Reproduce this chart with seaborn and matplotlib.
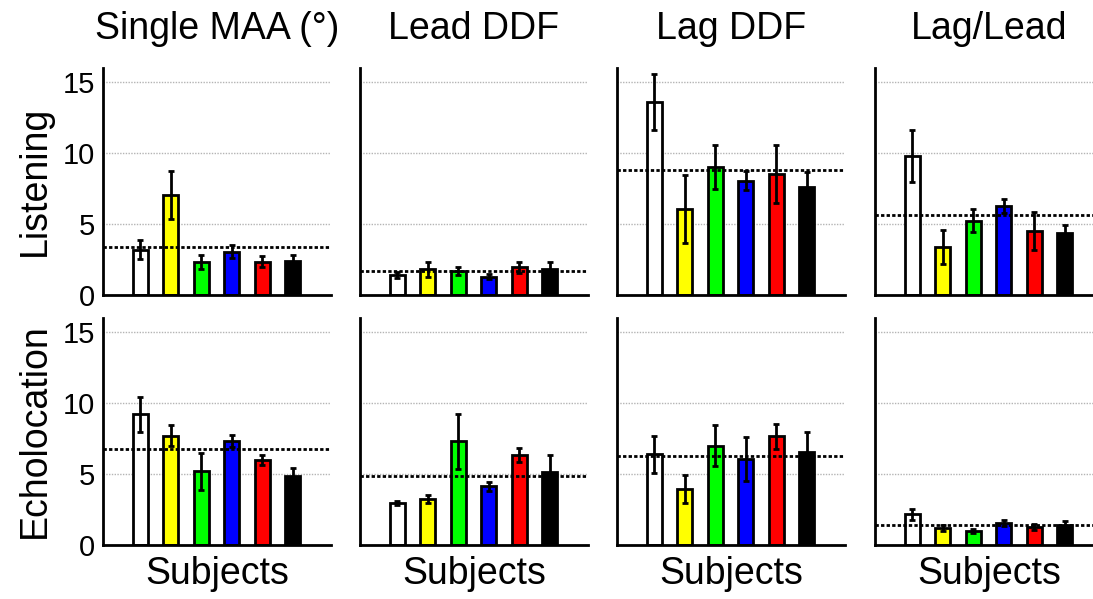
import matplotlib
matplotlib.use("Agg")
import matplotlib.pyplot as plt
import seaborn as sns
import pandas as pd

# panel titles / rows / subjects
measures = ["Single MAA (°)", "Lead DDF", "Lag DDF", "Lag/Lead"]
conditions = ["Listening", "Echolocation"]
subjects = ["S1", "S2", "S3", "S4", "S5", "S6"]
subject_colors = ["white", "#ffff00", "#00ff00", "#0000ff", "#ff0000", "black"]

# values, one list per measure
listening_vals = [
    [3.2, 7.05, 2.3, 3.05, 2.35, 2.4],
    [1.4, 1.8, 1.7, 1.3, 1.95, 1.8],
    [13.6, 6.05, 9.0, 8.05, 8.5, 7.6],
    [9.8, 3.4, 5.25, 6.3, 4.5, 4.4],
]
listening_err = [
    [0.67, 1.7, 0.5, 0.45, 0.4, 0.45],
    [0.2, 0.5, 0.28, 0.15, 0.38, 0.5],
    [1.95, 2.4, 1.55, 0.66, 2.05, 1.1],
    [1.83, 1.18, 0.78, 0.49, 1.32, 0.56],
]
listening_mean = [3.37, 1.67, 8.78, 5.63]

echo_vals = [
    [9.2, 7.7, 5.2, 7.3, 6.0, 4.85],
    [2.95, 3.25, 7.3, 4.15, 6.35, 5.15],
    [6.4, 3.95, 7.0, 6.05, 7.65, 6.55],
    [2.15, 1.2, 1.0, 1.55, 1.25, 1.4],
]
echo_err = [
    [1.25, 0.73, 1.29, 0.42, 0.35, 0.56],
    [0.12, 0.28, 1.93, 0.31, 0.52, 1.18],
    [1.31, 0.99, 1.43, 1.55, 0.89, 1.43],
    [0.38, 0.24, 0.12, 0.19, 0.21, 0.3],
]
echo_mean = [6.74, 4.88, 6.29, 1.43]

sns.set_style("white")
plt.rcParams["font.family"] = ["Liberation Sans", "DejaVu Sans"]
for key in ["text.color", "axes.labelcolor", "xtick.color", "ytick.color"]:
    plt.rcParams[key] = "black"

W, H = 1093, 599
fig = plt.figure(figsize=(W / 100, H / 100), dpi=100)

col_left = [103, 360, 617, 875]
row_bottom = [295, 545]
ax_w, ax_h = 228, 227
lw = 2.0

rows = [(listening_vals, listening_err, listening_mean),
        (echo_vals, echo_err, echo_mean)]

for r, (vals_all, err_all, mean_all) in enumerate(rows):
    for c in range(4):
        ax = fig.add_axes([col_left[c] / W, 1 - row_bottom[r] / H, ax_w / W, ax_h / H])
        df = pd.DataFrame({"subject": subjects, "value": vals_all[c]})
        ax.set_axisbelow(True)
        ax.yaxis.grid(True, color="#b4b4b4", linestyle=(0, (1, 1)), linewidth=1)
        sns.barplot(data=df, x="subject", y="value", hue="subject",
                    palette=subject_colors, saturation=1, width=0.5,
                    edgecolor="black", linewidth=lw, legend=False,
                    errorbar=None, ax=ax)
        ax.errorbar(range(len(subjects)), vals_all[c], yerr=err_all[c], fmt="none",
                    ecolor="black", elinewidth=lw, capsize=2.2, capthick=lw, zorder=4)
        ax.axhline(mean_all[c], color="black", linestyle=(0, (1.2, 0.8)),
                   linewidth=2.0, zorder=5)

        ax.set_xlim(-1.23, 6.26)
        ax.set_ylim(0, 16)
        ax.set_yticks([0, 5, 10, 15])
        ax.set_xticks([])
        for side in ["top", "right"]:
            ax.spines[side].set_visible(False)
        for side in ["left", "bottom"]:
            ax.spines[side].set_linewidth(lw)
            ax.spines[side].set_color("black")
        ax.tick_params(axis="y", length=0, pad=6, labelsize=21)
        if c > 0:
            ax.tick_params(labelleft=False)
        ax.set_ylabel("")
        if r == 0:
            ax.set_xlabel("")
            ax.set_title(measures[c], fontsize=27, pad=21)
        else:
            ax.set_xlabel("Subjects", fontsize=27, labelpad=8)

fig.text(35 / W, 1 - 181 / H, conditions[0], rotation=90, ha="center", va="center", fontsize=27)
fig.text(35 / W, 1 - 431 / H, conditions[1], rotation=90, ha="center", va="center", fontsize=27)

fig.savefig("out.png", dpi=100)
plt.close(fig)
